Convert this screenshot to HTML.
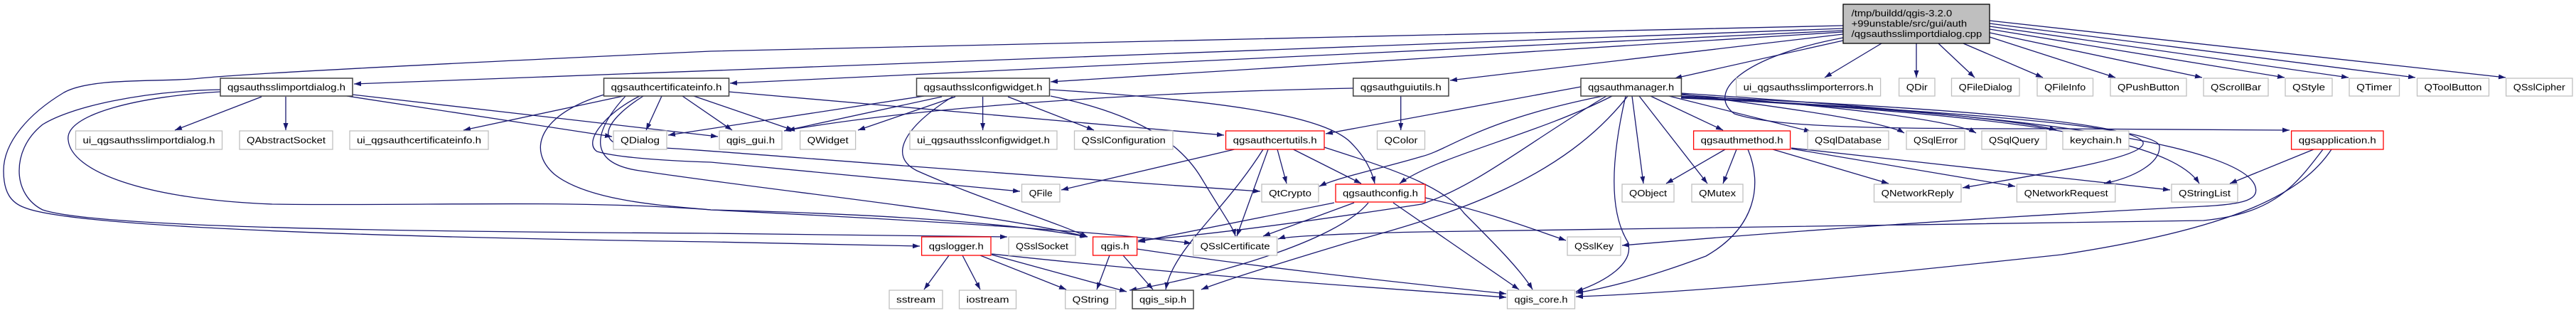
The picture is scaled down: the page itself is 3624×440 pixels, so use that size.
<!DOCTYPE html>
<html><head><meta charset="utf-8"><style>
html,body{margin:0;padding:0;background:#fff;}
svg{display:block;}
text{font-family:"Liberation Sans",sans-serif;font-size:13px;fill:#000;}
.e{fill:none;stroke:#191970;stroke-width:1.3;marker-end:url(#a);}
.g{fill:#fff;stroke:#bfbfbf;stroke-width:1.3;}
.k{fill:#fff;stroke:#404040;stroke-width:1.5;}
.r{fill:#fff;stroke:#ff0000;stroke-width:1.3;}
</style></head><body>
<svg width="3624" height="440" viewBox="0 0 3624 440" xmlns="http://www.w3.org/2000/svg">
<defs><marker id="a" markerUnits="userSpaceOnUse" markerWidth="11" markerHeight="8" refX="10" refY="3.5" orient="auto"><path d="M0,0 L10,3.5 L0,7 z" fill="#191970"/></marker></defs>
<g>
<!-- cpp edges -->
<path class="e" d="M2593,40 L498,118"/>
<path class="e" d="M2593,43 L1027,117"/>
<path class="e" d="M2593,45 L1478,115"/>
<path class="e" d="M2593,48 L2040,113"/>
<path class="e" d="M2593,57 L2356,110"/>
<path class="e" d="M2593,36 L1000,72 C500,95 330,105 281,110 C230,116 130,108 90,130 C40,160 5,200 5,240 C5,270 15,285 35,292 C80,310 300,330 1000,340 L1294,346"/>
<path class="e" d="M2647,61 L2567,109"/>
<path class="e" d="M2696,61 L2696,109"/>
<path class="e" d="M2727,61 L2778,109"/>
<path class="e" d="M2762,61 L2874,109"/>
<path class="e" d="M2799,52 L2976,109"/>
<path class="e" d="M2799,46 L3098,109"/>
<path class="e" d="M2799,41 L3214,109"/>
<path class="e" d="M2799,37 L3304,109"/>
<path class="e" d="M2799,33 L3398,109"/>
<path class="e" d="M2799,29 L3525,109"/>
<path class="e" d="M2593,53 C2450,80 2400,130 2440,160 C2500,180 2650,181 2900,181 L3221,183"/>
<!-- sslimportdialog -->
<path class="e" d="M310,126 C200,128 100,150 60,175 C35,195 27,220 27,240 C27,265 40,285 60,295 C120,315 400,325 1000,328 L1417,333"/>
<path class="e" d="M310,129 C200,135 90,160 96,197 C100,240 200,280 383,287 C600,290 800,280 1000,295 C1200,300 1400,310 1530,333"/>
<path class="e" d="M368,136 L246,183"/>
<path class="e" d="M402,136 L402,183"/>
<path class="e" d="M488,135 L861,192"/>
<path class="e" d="M496,133 L1010,192"/>
<!-- certificateinfo -->
<path class="e" d="M850,133 C760,160 740,210 780,245 C830,285 950,290 1000,295 C1300,310 1550,325 1676,342"/>
<path class="e" d="M900,135 C850,160 820,200 840,213 C880,225 1000,228 1000,228 L1435,269"/>
<path class="e" d="M905,135 C850,170 840,200 880,205 C1000,210 1200,230 1773,269"/>
<path class="e" d="M880,135 C830,190 830,230 900,240 C1100,270 1400,300 1529,333"/>
<path class="e" d="M877,135 L652,183"/>
<path class="e" d="M931,135 L909,183"/>
<path class="e" d="M960,135 L1030,183"/>
<path class="e" d="M976,135 L1116,183"/>
<path class="e" d="M1025,129 L1722,190"/>
<!-- sslconfigwidget -->
<path class="e" d="M1300,135 L940,190"/>
<path class="e" d="M1325,136 L1103,184"/>
<path class="e" d="M1344,136 L1207,183"/>
<path class="e" d="M1382.6,136 L1382.6,183"/>
<path class="e" d="M1418,136 L1539,183"/>
<path class="e" d="M1340,136 C1270,180 1250,220 1290,240 C1380,280 1480,310 1530,333"/>
<path class="e" d="M1478,135 C1600,160 1660,200 1690,250 C1720,300 1735,320 1738,332"/>
<path class="e" d="M1477,126 C1700,140 1860,160 1900,200 C1920,220 1930,240 1934,258"/>
<!-- guiutils -->
<path class="e" d="M1904,124 C1600,130 1300,150 1108,183"/>
<path class="e" d="M1970.7,135 L1970.7,183"/>
<!-- certutils -->
<path class="e" d="M1736.6,210 L1493,267"/>
<path class="e" d="M1797,210 L1810,258"/>
<path class="e" d="M1819.5,210 L1915,258"/>
<path class="e" d="M1784,210 L1740,332"/>
<path class="e" d="M1777,210 C1720,300 1650,350 1640,407"/>
<path class="e" d="M1863,207 C1950,235 2030,260 2060,300 C2100,340 2140,380 2156,407"/>
<!-- authconfig -->
<path class="e" d="M1960,285 L2137,407"/>
<path class="e" d="M1877,285 L1601,340"/>
<path class="e" d="M1905,285 L1777,332"/>
<path class="e" d="M1925,285 C1880,340 1700,390 1589,408"/>
<path class="e" d="M2005,278 C2100,300 2150,320 2203,338"/>
<!-- qgis.h -->
<path class="e" d="M1561,359 L1543,407"/>
<path class="e" d="M1580,359 L1622,407"/>
<path class="e" d="M1599.5,350 C1800,380 2000,400 2119,413"/>
<!-- qgslogger -->
<path class="e" d="M1335,359 L1300,407"/>
<path class="e" d="M1354,359 L1379,407"/>
<path class="e" d="M1379,359 L1500,407"/>
<path class="e" d="M1395,358 L1585,410"/>
<path class="e" d="M1395,357 C1700,390 1950,405 2119,418"/>
<!-- authmanager -->
<path class="e" d="M2224,122 L1865,188"/>
<path class="e" d="M2255,135 C2080,170 2040,210 2000,220 C1950,235 1880,250 1856,262"/>
<path class="e" d="M2268,135 C2160,190 2020,220 1969,258"/>
<path class="e" d="M2260,135 C2150,200 2080,260 2000,287 C1850,310 1700,330 1601,338"/>
<path class="e" d="M2290,135 C2200,250 2050,300 1900,340 C1800,370 1720,395 1690,407"/>
<path class="e" d="M2287,135 C2265,230 2265,300 2290,340 C2300,370 2260,395 2217,410"/>
<path class="e" d="M2296,135 L2312,258"/>
<path class="e" d="M2306,135 L2402,258"/>
<path class="e" d="M2322,135 L2424,183"/>
<path class="e" d="M2348,135 L2548,185"/>
<path class="e" d="M2365,132 C2500,150 2650,170 2679,187"/>
<path class="e" d="M2365,133 C2600,150 2750,170 2780,187"/>
<path class="e" d="M2365,131 C2650,150 2850,170 2893,183"/>
<path class="e" d="M2365,135 C2700,150 3000,170 3015,200 C3020,220 2900,240 2761,264"/>
<path class="e" d="M2365,136 C2700,155 3030,175 3038,205 C3040,230 3000,250 2960,258"/>
<path class="e" d="M2365,137 C2800,160 3050,190 3094,258"/>
<path class="e" d="M2365,138 C2900,160 3150,210 3172,260 C3180,280 3160,287 3100,290 C2700,310 2400,335 2282,345"/>
<!-- qgsapplication -->
<path class="e" d="M3268,210 C3230,260 3200,300 3100,310 L2000,326 C1900,328 1810,332 1798,336"/>
<path class="e" d="M3255,210 L3137,258"/>
<path class="e" d="M3280,210 C3240,270 3150,320 2900,358 C2600,390 2400,410 2217,417"/>
<!-- authmethod -->
<path class="e" d="M2427,210 L2344,258"/>
<path class="e" d="M2443,210 L2424,258"/>
<path class="e" d="M2459,210 C2480,260 2470,320 2400,360 C2320,390 2260,405 2217,412"/>
<path class="e" d="M2494,210 L2657,258"/>
<path class="e" d="M2520,209 L2835,262"/>
<path class="e" d="M2520,208 L3053,267"/>
</g>
<g>
<rect x="2593" y="6" width="206" height="55" fill="#bfbfbf" stroke="#000" stroke-width="1.3"/>
<text x="2604.6" y="23" textLength="141.6" lengthAdjust="spacingAndGlyphs">/tmp/buildd/qgis-3.2.0</text>
<text x="2604.6" y="37.5" textLength="162.6" lengthAdjust="spacingAndGlyphs">+99unstable/src/gui/auth</text>
<text x="2604.6" y="52" textLength="183.7" lengthAdjust="spacingAndGlyphs">/qgsauthsslimportdialog.cpp</text>

<rect class="k" x="310" y="110" width="186" height="25"/><text x="403" y="127" text-anchor="middle" textLength="166" lengthAdjust="spacingAndGlyphs">qgsauthsslimportdialog.h</text>
<rect class="g" x="106.5" y="184" width="206" height="26"/><text x="209.5" y="201.5" text-anchor="middle" textLength="186" lengthAdjust="spacingAndGlyphs">ui_qgsauthsslimportdialog.h</text>
<rect class="g" x="337" y="184" width="131" height="26"/><text x="402.5" y="201.5" text-anchor="middle" textLength="111" lengthAdjust="spacingAndGlyphs">QAbstractSocket</text>
<rect class="g" x="492" y="184" width="195" height="26"/><text x="589.5" y="201.5" text-anchor="middle" textLength="175" lengthAdjust="spacingAndGlyphs">ui_qgsauthcertificateinfo.h</text>
<rect class="g" x="863" y="184" width="75" height="26"/><text x="900.5" y="201.5" text-anchor="middle" textLength="55" lengthAdjust="spacingAndGlyphs">QDialog</text>
<rect class="k" x="849.5" y="110" width="176" height="25"/><text x="937.5" y="127" text-anchor="middle" textLength="156" lengthAdjust="spacingAndGlyphs">qgsauthcertificateinfo.h</text>
<rect class="g" x="1012" y="184" width="88" height="26"/><text x="1056" y="201.5" text-anchor="middle" textLength="68" lengthAdjust="spacingAndGlyphs">qgis_gui.h</text>
<rect class="g" x="1125.6" y="184" width="78" height="26"/><text x="1164.6" y="201.5" text-anchor="middle" textLength="58" lengthAdjust="spacingAndGlyphs">QWidget</text>
<rect class="k" x="1289.5" y="110" width="187" height="25"/><text x="1383" y="127" text-anchor="middle" textLength="167" lengthAdjust="spacingAndGlyphs">qgsauthsslconfigwidget.h</text>
<rect class="g" x="1280" y="184" width="207" height="26"/><text x="1383.5" y="201.5" text-anchor="middle" textLength="187" lengthAdjust="spacingAndGlyphs">ui_qgsauthsslconfigwidget.h</text>
<rect class="g" x="1511.5" y="184" width="138.5" height="26"/><text x="1580.7" y="201.5" text-anchor="middle" textLength="118" lengthAdjust="spacingAndGlyphs">QSslConfiguration</text>
<rect class="r" x="1724.5" y="184" width="138.5" height="26"/><text x="1793.7" y="201.5" text-anchor="middle" textLength="118" lengthAdjust="spacingAndGlyphs">qgsauthcertutils.h</text>
<rect class="g" x="1937.5" y="184" width="67" height="26"/><text x="1971" y="201.5" text-anchor="middle" textLength="47" lengthAdjust="spacingAndGlyphs">QColor</text>
<rect class="k" x="1903.7" y="110" width="134.3" height="25"/><text x="1970.8" y="127" text-anchor="middle" textLength="114" lengthAdjust="spacingAndGlyphs">qgsauthguiutils.h</text>
<rect class="g" x="1437.5" y="259" width="53.5" height="25"/><text x="1464.2" y="276" text-anchor="middle" textLength="33" lengthAdjust="spacingAndGlyphs">QFile</text>
<rect class="g" x="1775" y="259" width="80" height="25"/><text x="1815" y="276" text-anchor="middle" textLength="60" lengthAdjust="spacingAndGlyphs">QtCrypto</text>
<rect class="r" x="1879" y="259" width="126" height="25"/><text x="1942" y="276" text-anchor="middle" textLength="106" lengthAdjust="spacingAndGlyphs">qgsauthconfig.h</text>
<rect class="r" x="1296.6" y="333" width="97.4" height="26"/><text x="1345.3" y="350.5" text-anchor="middle" textLength="77" lengthAdjust="spacingAndGlyphs">qgslogger.h</text>
<rect class="g" x="1419" y="333" width="94" height="26"/><text x="1466" y="350.5" text-anchor="middle" textLength="74" lengthAdjust="spacingAndGlyphs">QSslSocket</text>
<rect class="r" x="1537.6" y="333" width="62" height="26"/><text x="1568.6" y="350.5" text-anchor="middle" textLength="40" lengthAdjust="spacingAndGlyphs">qgis.h</text>
<rect class="g" x="1678.6" y="333" width="118" height="26"/><text x="1737.6" y="350.5" text-anchor="middle" textLength="98" lengthAdjust="spacingAndGlyphs">QSslCertificate</text>
<rect class="g" x="1251" y="408" width="75" height="26"/><text x="1288.5" y="425.5" text-anchor="middle" textLength="55" lengthAdjust="spacingAndGlyphs">sstream</text>
<rect class="g" x="1349.5" y="408" width="80" height="26"/><text x="1389.5" y="425.5" text-anchor="middle" textLength="60" lengthAdjust="spacingAndGlyphs">iostream</text>
<rect class="g" x="1498.7" y="408" width="71" height="26"/><text x="1534.2" y="425.5" text-anchor="middle" textLength="51" lengthAdjust="spacingAndGlyphs">QString</text>
<rect class="k" x="1593" y="408" width="86" height="26"/><text x="1636" y="425.5" text-anchor="middle" textLength="66" lengthAdjust="spacingAndGlyphs">qgis_sip.h</text>
<rect class="k" x="2224" y="110" width="141.4" height="25"/><text x="2294.7" y="127" text-anchor="middle" textLength="121" lengthAdjust="spacingAndGlyphs">qgsauthmanager.h</text>
<rect class="g" x="2442.6" y="110" width="203" height="25"/><text x="2544.1" y="127" text-anchor="middle" textLength="183" lengthAdjust="spacingAndGlyphs">ui_qgsauthsslimporterrors.h</text>
<rect class="g" x="2671.6" y="110" width="50.4" height="25"/><text x="2696.8" y="127" text-anchor="middle" textLength="30" lengthAdjust="spacingAndGlyphs">QDir</text>
<rect class="g" x="2745.5" y="110" width="95.5" height="25"/><text x="2793.2" y="127" text-anchor="middle" textLength="75" lengthAdjust="spacingAndGlyphs">QFileDialog</text>
<rect class="g" x="2866" y="110" width="78.5" height="25"/><text x="2905.2" y="127" text-anchor="middle" textLength="58" lengthAdjust="spacingAndGlyphs">QFileInfo</text>
<rect class="g" x="2969" y="110" width="107" height="25"/><text x="3022.5" y="127" text-anchor="middle" textLength="87" lengthAdjust="spacingAndGlyphs">QPushButton</text>
<rect class="g" x="3100" y="110" width="91" height="25"/><text x="3145.5" y="127" text-anchor="middle" textLength="71" lengthAdjust="spacingAndGlyphs">QScrollBar</text>
<rect class="g" x="3215" y="110" width="66" height="25"/><text x="3248" y="127" text-anchor="middle" textLength="46" lengthAdjust="spacingAndGlyphs">QStyle</text>
<rect class="g" x="3305" y="110" width="70.5" height="25"/><text x="3340.2" y="127" text-anchor="middle" textLength="50" lengthAdjust="spacingAndGlyphs">QTimer</text>
<rect class="g" x="3400.5" y="110" width="101" height="25"/><text x="3451" y="127" text-anchor="middle" textLength="81" lengthAdjust="spacingAndGlyphs">QToolButton</text>
<rect class="g" x="3525.6" y="110" width="93.4" height="25"/><text x="3572.3" y="127" text-anchor="middle" textLength="73" lengthAdjust="spacingAndGlyphs">QSslCipher</text>
<rect class="r" x="2382.6" y="184" width="136" height="26"/><text x="2450.6" y="201.5" text-anchor="middle" textLength="116" lengthAdjust="spacingAndGlyphs">qgsauthmethod.h</text>
<rect class="g" x="2543" y="184" width="114" height="26"/><text x="2600" y="201.5" text-anchor="middle" textLength="94" lengthAdjust="spacingAndGlyphs">QSqlDatabase</text>
<rect class="g" x="2682" y="184" width="82" height="26"/><text x="2723" y="201.5" text-anchor="middle" textLength="62" lengthAdjust="spacingAndGlyphs">QSqlError</text>
<rect class="g" x="2788" y="184" width="91" height="26"/><text x="2833.5" y="201.5" text-anchor="middle" textLength="71" lengthAdjust="spacingAndGlyphs">QSqlQuery</text>
<rect class="g" x="2902" y="184" width="93" height="26"/><text x="2948.5" y="201.5" text-anchor="middle" textLength="73" lengthAdjust="spacingAndGlyphs">keychain.h</text>
<rect class="r" x="3223.6" y="184" width="129.4" height="26"/><text x="3288.3" y="201.5" text-anchor="middle" textLength="109" lengthAdjust="spacingAndGlyphs">qgsapplication.h</text>
<rect class="g" x="2282" y="259" width="73" height="25"/><text x="2318.5" y="276" text-anchor="middle" textLength="53" lengthAdjust="spacingAndGlyphs">QObject</text>
<rect class="g" x="2380" y="259" width="72" height="25"/><text x="2416" y="276" text-anchor="middle" textLength="52" lengthAdjust="spacingAndGlyphs">QMutex</text>
<rect class="g" x="2636.5" y="259" width="122.5" height="25"/><text x="2697.7" y="276" text-anchor="middle" textLength="102" lengthAdjust="spacingAndGlyphs">QNetworkReply</text>
<rect class="g" x="2837.4" y="259" width="138.4" height="25"/><text x="2906.6" y="276" text-anchor="middle" textLength="118" lengthAdjust="spacingAndGlyphs">QNetworkRequest</text>
<rect class="g" x="3055" y="259" width="93" height="25"/><text x="3101.5" y="276" text-anchor="middle" textLength="73" lengthAdjust="spacingAndGlyphs">QStringList</text>
<rect class="g" x="2205" y="333" width="75" height="26"/><text x="2242.5" y="350.5" text-anchor="middle" textLength="55" lengthAdjust="spacingAndGlyphs">QSslKey</text>
<rect class="g" x="2120.5" y="408" width="95" height="26"/><text x="2168" y="425.5" text-anchor="middle" textLength="75" lengthAdjust="spacingAndGlyphs">qgis_core.h</text>
</g>
</svg>
</body></html>
